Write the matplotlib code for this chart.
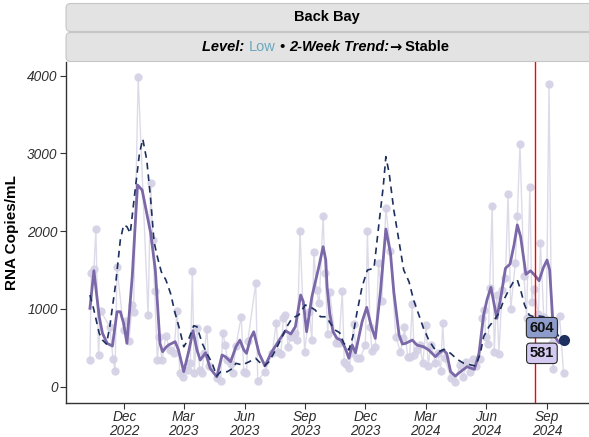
import matplotlib
matplotlib.use("Agg")
import matplotlib.pyplot as plt
import matplotlib.dates as mdates
from matplotlib.patches import FancyBboxPatch
import pandas as pd

plt.rcParams['font.family'] = ['Liberation Sans', 'DejaVu Sans']

# ## Data

# raw sample results (light dots joined by a faint line)
raw_dates = ['2022-10-10', '2022-10-12', '2022-10-16', '2022-10-19', '2022-10-23', '2022-10-26',
             '2022-11-09', '2022-11-14', '2022-11-17', '2022-11-20', '2022-11-30', '2022-12-04',
             '2022-12-08', '2022-12-13', '2022-12-15', '2022-12-22', '2023-01-06', '2023-01-10',
             '2023-01-13', '2023-01-16', '2023-01-20', '2023-01-23', '2023-01-27', '2023-02-02',
             '2023-02-08', '2023-02-14', '2023-02-19', '2023-02-23', '2023-02-28', '2023-03-07',
             '2023-03-11', '2023-03-14', '2023-03-17', '2023-03-21', '2023-03-25', '2023-03-28',
             '2023-04-01', '2023-04-05', '2023-04-08', '2023-04-20', '2023-04-26', '2023-04-29',
             '2023-05-03', '2023-05-06', '2023-05-11', '2023-05-14', '2023-05-19', '2023-05-27',
             '2023-05-31', '2023-06-04', '2023-06-06', '2023-06-18', '2023-06-21', '2023-07-02',
             '2023-07-13', '2023-07-19', '2023-07-22', '2023-07-26', '2023-07-30', '2023-08-02',
             '2023-08-06', '2023-08-10', '2023-08-17', '2023-08-20', '2023-08-24', '2023-08-31',
             '2023-09-07', '2023-09-11', '2023-09-14', '2023-09-18', '2023-09-22', '2023-09-28',
             '2023-10-01', '2023-10-05', '2023-10-08', '2023-10-17', '2023-10-22', '2023-10-27',
             '2023-10-30', '2023-11-02', '2023-11-06', '2023-11-10', '2023-11-13', '2023-11-18',
             '2023-11-23', '2023-12-01', '2023-12-04', '2023-12-08', '2023-12-11', '2023-12-16',
             '2023-12-21', '2023-12-26', '2024-01-01', '2024-01-08', '2024-01-16', '2024-01-23',
             '2024-01-27', '2024-01-29', '2024-02-03', '2024-02-06', '2024-02-10', '2024-02-13',
             '2024-02-17', '2024-02-21', '2024-02-26', '2024-03-02', '2024-03-05', '2024-03-09',
             '2024-03-16', '2024-03-20', '2024-03-24', '2024-03-27', '2024-03-30', '2024-04-09',
             '2024-04-15', '2024-04-22', '2024-04-27', '2024-05-02', '2024-05-07', '2024-05-12',
             '2024-05-16', '2024-05-22', '2024-05-26', '2024-05-29', '2024-05-31', '2024-06-04',
             '2024-06-06', '2024-06-10', '2024-06-13', '2024-06-17', '2024-06-20', '2024-06-25',
             '2024-06-30', '2024-07-04', '2024-07-08', '2024-07-15', '2024-07-18', '2024-07-22',
             '2024-07-28', '2024-08-01', '2024-08-06', '2024-08-09', '2024-08-12', '2024-08-19',
             '2024-08-22', '2024-08-27', '2024-08-31', '2024-09-04', '2024-09-08', '2024-09-10',
             '2024-09-20', '2024-09-26']
raw_values = [341, 1457, 1508, 2023, 405, 976,
              770, 354, 204, 1534, 727, 843,
              590, 1049, 963, 3980, 920, 2623,
              1886, 1229, 341, 641, 341, 650,
              470, 427, 976, 170, 118, 212,
              299, 1490, 178, 749, 212, 170,
              427, 744, 264, 106, 75, 693,
              534, 341, 290, 178, 521, 898,
              191, 178, 590, 1328, 75, 191,
              427, 821, 448, 418, 885, 920,
              504, 641, 693, 598, 2005, 448,
              963, 598, 1727, 1242, 1071, 2194,
              1457, 676, 1212, 556, 556, 1229,
              319, 286, 234, 427, 800, 363,
              363, 534, 2005, 770, 457, 504,
              1586, 1104, 2293, 1744, 641, 448,
              620, 770, 384, 384, 1058, 405,
              470, 534, 299, 792, 264, 534,
              306, 427, 199, 813, 363, 106,
              62, 277, 126, 319, 191, 350,
              264, 350, 878, 985, 641, 547,
              1264, 2323, 440, 1178, 414, 1242,
              1393, 2474, 994, 1593, 2194, 3117,
              1422, 885, 2571, 1091, 1251, 933,
              1851, 898, 856, 3893, 564, 221,
              907, 170]

# smoothed trend (solid purple)
smooth_dates = ['2022-10-10', '2022-10-16', '2022-10-24', '2022-10-29', '2022-11-05', '2022-11-13',
                '2022-11-20', '2022-11-25', '2022-11-30', '2022-12-05', '2022-12-13', '2022-12-21',
                '2022-12-28', '2023-01-10', '2023-01-17', '2023-01-24', '2023-01-28', '2023-02-02',
                '2023-02-06', '2023-02-16', '2023-02-21', '2023-03-01', '2023-03-09', '2023-03-15',
                '2023-03-21', '2023-03-26', '2023-04-03', '2023-04-10', '2023-04-20', '2023-04-28',
                '2023-05-03', '2023-05-11', '2023-05-19', '2023-05-25', '2023-05-31', '2023-06-04',
                '2023-06-10', '2023-06-15', '2023-06-23', '2023-07-02', '2023-07-11', '2023-07-21',
                '2023-08-02', '2023-08-10', '2023-08-17', '2023-08-25', '2023-08-29', '2023-09-03',
                '2023-09-11', '2023-09-21', '2023-09-28', '2023-10-02', '2023-10-04', '2023-10-08',
                '2023-10-13', '2023-10-19', '2023-10-25', '2023-10-31', '2023-11-06', '2023-11-11',
                '2023-11-16', '2023-11-26', '2023-12-03', '2023-12-10', '2023-12-16', '2023-12-24',
                '2024-01-01', '2024-01-08', '2024-01-13', '2024-01-21', '2024-01-26', '2024-01-31',
                '2024-02-10', '2024-02-17', '2024-02-27', '2024-03-06', '2024-03-16', '2024-03-21',
                '2024-03-28', '2024-04-02', '2024-04-08', '2024-04-15', '2024-04-23', '2024-05-03',
                '2024-05-14', '2024-05-21', '2024-05-28', '2024-06-02', '2024-06-08', '2024-06-17',
                '2024-06-24', '2024-06-30', '2024-07-07', '2024-07-13', '2024-07-18', '2024-07-23',
                '2024-07-31', '2024-08-07', '2024-08-13', '2024-08-20', '2024-08-26', '2024-09-01',
                '2024-09-05', '2024-09-11', '2024-09-19', '2024-09-26']
smooth_values = [1006, 1490, 898, 685, 556, 521,
                 963, 963, 813, 556, 1413, 2593,
                 2529, 1972, 1499, 556, 448, 504,
                 534, 577, 470, 191, 470, 718,
                 470, 341, 435, 234, 126, 405,
                 384, 319, 512, 598, 470, 427,
                 620, 705, 427, 264, 427, 564,
                 718, 676, 770, 1178, 1091, 705,
                 1156, 1521, 1799, 1628, 1284, 942,
                 705, 620, 598, 504, 363, 534,
                 435, 834, 1019, 770, 620, 1242,
                 2027, 1714, 1220, 663, 547, 556,
                 598, 534, 512, 470, 384, 427,
                 470, 427, 191, 135, 191, 255,
                 221, 427, 920, 1113, 1277, 878,
                 1199, 1521, 1577, 1821, 2079, 1928,
                 1444, 1490, 1435, 1362, 1521, 1628,
                 1499, 663, 564, 581]

# longer-window average (dashed navy)
avg_dates = ['2022-10-10', '2022-10-16', '2022-10-24', '2022-10-29', '2022-11-04', '2022-11-09',
             '2022-11-18', '2022-11-25', '2022-11-30', '2022-12-05', '2022-12-10', '2022-12-18',
             '2022-12-24', '2022-12-29', '2023-01-04', '2023-01-10', '2023-01-15', '2023-01-20',
             '2023-01-26', '2023-02-02', '2023-02-09', '2023-02-16', '2023-02-23', '2023-03-01',
             '2023-03-09', '2023-03-16', '2023-03-21', '2023-03-29', '2023-04-05', '2023-04-13',
             '2023-04-20', '2023-04-26', '2023-05-06', '2023-05-14', '2023-05-19', '2023-05-29',
             '2023-06-03', '2023-06-08', '2023-06-18', '2023-06-23', '2023-07-01', '2023-07-08',
             '2023-07-18', '2023-07-28', '2023-08-04', '2023-08-12', '2023-08-22', '2023-09-01',
             '2023-09-08', '2023-09-16', '2023-09-24', '2023-10-03', '2023-10-09', '2023-10-16',
             '2023-10-23', '2023-10-29', '2023-11-06', '2023-11-12', '2023-11-18', '2023-11-26',
             '2023-12-04', '2023-12-14', '2023-12-21', '2023-12-28', '2024-01-01', '2024-01-06',
             '2024-01-13', '2024-01-21', '2024-01-28', '2024-02-05', '2024-02-12', '2024-02-20',
             '2024-02-27', '2024-03-06', '2024-03-14', '2024-03-21', '2024-03-29', '2024-04-08',
             '2024-04-18', '2024-04-28', '2024-05-09', '2024-05-16', '2024-05-23', '2024-05-28',
             '2024-06-05', '2024-06-13', '2024-06-20', '2024-06-28', '2024-07-05', '2024-07-13',
             '2024-07-18', '2024-07-23', '2024-07-29', '2024-08-05', '2024-08-12', '2024-08-20',
             '2024-08-27', '2024-09-04', '2024-09-11', '2024-09-19', '2024-09-26']
avg_values = [1178, 985, 685, 598, 547, 770,
              1328, 1886, 2079, 2057, 1972, 2571,
              3001, 3185, 2915, 2400, 1864, 1671,
              1477, 1371, 1199, 942, 727, 512,
              620, 782, 770, 556, 427, 299,
              135, 191, 191, 234, 299, 277,
              299, 319, 363, 319, 264, 319,
              470, 641, 770, 878, 920, 1049,
              1027, 985, 898, 898, 813, 727,
              693, 564, 470, 641, 942, 1284,
              1499, 1521, 2057, 2571, 2958, 2744,
              2272, 1864, 1499, 1349, 1113, 920,
              749, 598, 492, 448, 479, 427,
              350, 299, 277, 264, 427, 641,
              770, 856, 942, 1122, 1242, 1362,
              1371, 1242, 1049, 920, 898, 907,
              898, 821, 749, 641, 604]

report_date = '2024-08-14'
x_ticks = ['2022-12-01', '2023-03-01', '2023-06-01', '2023-09-01', '2023-12-01',
           '2024-03-01', '2024-06-01', '2024-09-01']
y_ticks = [0, 1000, 2000, 3000, 4000]

raw_dates = pd.to_datetime(raw_dates)
smooth_dates = pd.to_datetime(smooth_dates)
avg_dates = pd.to_datetime(avg_dates)

# ## Figure

W, H = 589, 437
fig = plt.figure(figsize=(W / 100, H / 100), dpi=100)
ax = fig.add_axes([66 / W, 1 - 402.7 / H, (588 - 66) / W, (402.7 - 62) / H])

ax.plot(raw_dates, raw_values, color='#dedbe9', lw=1, zorder=1)
ax.plot(raw_dates, raw_values, 'o', color='#d4d0e5', ms=6, alpha=0.9, mec='none', zorder=2)
ax.plot(smooth_dates, smooth_values, color='#7b68a8', lw=2, solid_joinstyle='round', zorder=3)
ax.plot(avg_dates, avg_values, color='#1c2f5e', lw=1.2, ls=(0, (4, 3)), zorder=4)
ax.axvline(pd.Timestamp(report_date), color='red', lw=1, zorder=5)
ax.plot(avg_dates[-1], avg_values[-1], 'o', color='#1c2f5e', ms=7, zorder=6)

# value labels at the end of the two trend lines
ax.annotate(str(avg_values[-1]), (avg_dates[-1], avg_values[-1]), xytext=(-15.6, 8.6),
            textcoords='offset points', ha='center', va='center', fontsize=10.5, fontweight='bold',
            color='#111111',
            bbox=dict(boxstyle='round,pad=0.22,rounding_size=0.25', fc='#8d9ccb', ec='#2a2a2a', lw=0.8),
            zorder=7)
ax.annotate(str(smooth_values[-1]), (smooth_dates[-1], smooth_values[-1]), xytext=(-15.6, -8.6),
            textcoords='offset points', ha='center', va='center', fontsize=10.5, fontweight='bold',
            color='#111111',
            bbox=dict(boxstyle='round,pad=0.22,rounding_size=0.25', fc='#d3c9f1', ec='#2a2a2a', lw=0.8),
            zorder=7)

ax.set_xlim(pd.Timestamp('2022-09-03 18:00'), pd.Timestamp('2024-11-02'))
ax.set_ylim(-208, 4176)
ax.set_xticks(pd.to_datetime(x_ticks))
ax.xaxis.set_major_formatter(mdates.DateFormatter('%b\n%Y'))
ax.set_yticks(y_ticks)
ax.tick_params(colors='#333333', length=4, width=0.8, labelsize=9.8, labelcolor='#2e2e2e')
ax.tick_params(axis='x', pad=1.5)
ax.tick_params(axis='y', pad=2)
for lab in ax.get_xticklabels():
    lab.set_fontstyle('italic')
    lab.set_linespacing(0.95)
for lab in ax.get_yticklabels():
    lab.set_fontstyle('italic')
ax.set_ylabel('RNA Copies/mL', fontsize=11, fontweight='bold', labelpad=6)
for s in ['top', 'right']:
    ax.spines[s].set_visible(False)
for s in ['left', 'bottom']:
    ax.spines[s].set_color('#333333')
    ax.spines[s].set_linewidth(1)

# ## Facet strips

def strip(y0, y1):
    box = FancyBboxPatch((66 / W, 1 - y1 / H), (600 - 66) / W, (y1 - y0) / H,
                         boxstyle='round,pad=0,rounding_size=0.008', mutation_aspect=W / H,
                         transform=fig.transFigure, fc='#e3e3e3', ec='#c6c6c6', lw=0.8)
    fig.patches.append(box)

strip(3.5, 31.5)
strip(32.5, 61.5)
fig.text(327 / W, 1 - 17.5 / H, 'Back Bay', ha='center', va='center', fontsize=10.5, fontweight='bold')

pieces = [('Level: ', 'bold', 'italic', 'black', 'Liberation Sans'),
          ('Low', 'normal', 'normal', '#6aa8bd', 'Liberation Sans'),
          (' \u2022 ', 'bold', 'normal', 'black', 'Liberation Sans'),
          ('2-Week Trend:', 'bold', 'italic', 'black', 'Liberation Sans'),
          ('\u2192', 'bold', 'normal', 'black', 'DejaVu Sans'),
          (' Stable', 'bold', 'normal', 'black', 'Liberation Sans')]
texts = [fig.text(0, 1 - 47 / H, p[0], fontsize=10.5, fontweight=p[1], fontstyle=p[2], color=p[3],
                  family=p[4], ha='left', va='center') for p in pieces]
renderer = fig.canvas.get_renderer()
widths = [t.get_window_extent(renderer).width / W for t in texts]
x = 326 / W - sum(widths) / 2
for t, w in zip(texts, widths):
    t.set_x(x)
    x += w

fig.savefig('out.png', dpi=100)
